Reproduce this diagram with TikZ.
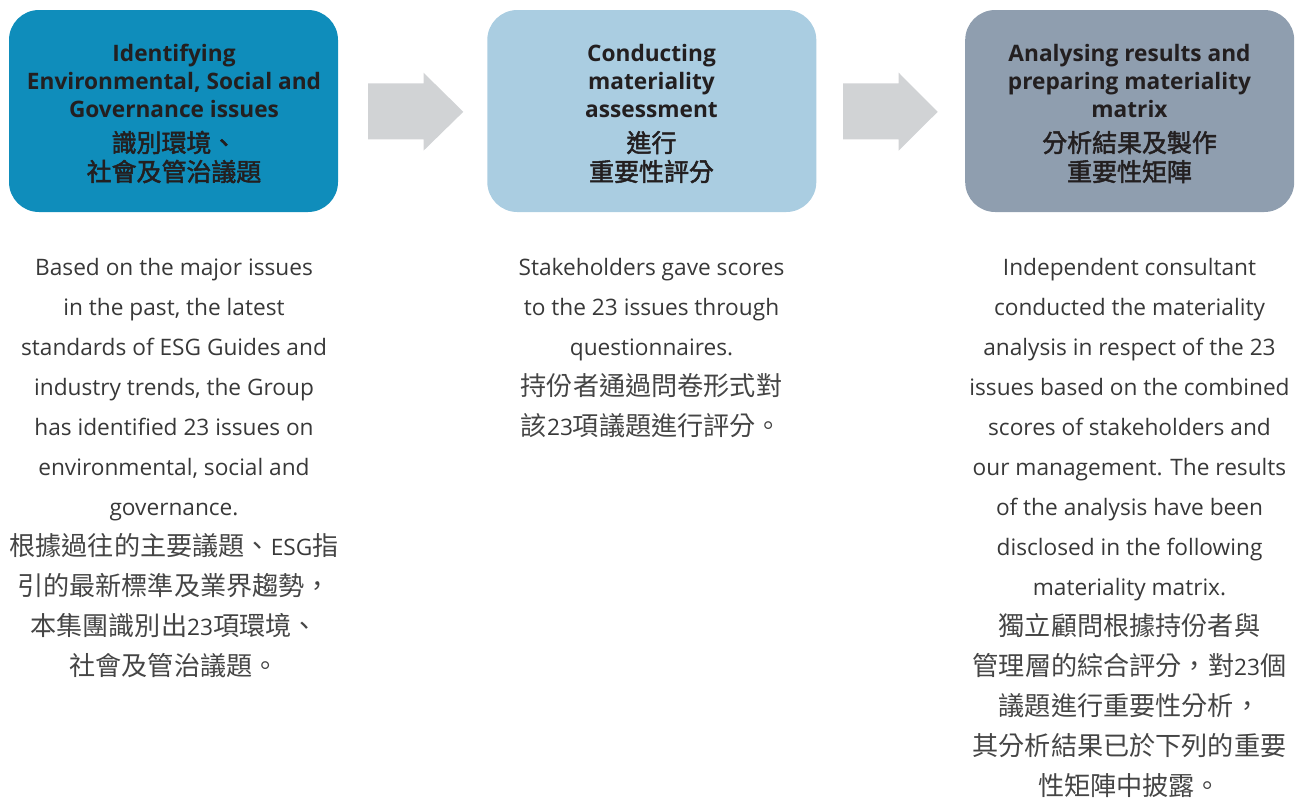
\documentclass[tikz,border=0pt]{standalone}
\usepackage{fontspec}
\setmainfont{Open Sans}
\newfontfamily\cjk{Noto Sans CJK TC}
\newfontfamily\cjkmed{Noto Sans CJK TC}[FakeBold=2]
\definecolor{boxA}{HTML}{0F8DBB}
\definecolor{boxB}{HTML}{AACDE1}
\definecolor{boxC}{HTML}{8F9EAF}
\definecolor{arrowgrey}{HTML}{D1D3D5}
\definecolor{headtxt}{HTML}{231F20}
\definecolor{bodytxt}{HTML}{383838}
\definecolor{bodycjktxt}{HTML}{454545}
\newcommand{\lat}[1]{{\fontsize{17}{20}\selectfont\normalfont\color{bodytxt}#1}}
\tikzset{
  stagebox/.style={rounded corners=22.5pt, minimum width=246.75pt, minimum height=151.5pt, inner sep=0pt, draw=none},
  head/.style={anchor=base, inner sep=0pt, text=headtxt, font=\fontsize{17}{20}\selectfont\bfseries},
  headcjk/.style={anchor=base, inner sep=0pt, text=headtxt, font=\fontsize{18.7}{22}\selectfont\cjkmed},
  body/.style={anchor=base, inner sep=0pt, text=bodytxt, font=\fontsize{17}{20}\selectfont},
  bodycjk/.style={anchor=base, inner sep=0pt, text=bodycjktxt, font=\fontsize{19.6}{22}\selectfont\cjk},
  flowarrow/.style={fill=arrowgrey, draw=none}
}
\begin{document}
\begin{tikzpicture}[x=0.75pt, y=-0.75pt]
\useasboundingbox (0,0) rectangle (1300,797);
% boxes
\node[stagebox, fill=boxA] (boxa) at (173.5,111) {};
\node[stagebox, fill=boxB] (boxb) at (651.8,111) {};
\node[stagebox, fill=boxC] (boxc) at (1129.7,111) {};
% arrows
\fill[flowarrow] (368,83.3) -- (423.5,83.3) -- (423.5,72.7) -- (463.3,111.8) -- (423.5,150.7) -- (423.5,139.3) -- (368,139.3) -- cycle;
\fill[flowarrow] (843,83.3) -- (898.7,83.3) -- (898.7,72.7) -- (937.7,111.8) -- (898.7,150.7) -- (898.7,139.3) -- (843,139.3) -- cycle;
% headings box 1
\node[head] (h1a) at (174,61) {Identifying};
\node[head] (h1b) at (174,89) {Environmental, Social and};
\node[head] (h1c) at (174,117) {Governance issues};
\node[headcjk] (h1d) at (174,152) {識別環境、};
\node[headcjk] (h1e) at (174,181) {社會及管治議題};
% headings box 2
\node[head] (h2a) at (651.5,61) {Conducting};
\node[head] (h2b) at (651.5,89) {materiality};
\node[head] (h2c) at (651.5,117) {assessment};
\node[headcjk] (h2d) at (651.5,152) {進行};
\node[headcjk] (h2e) at (651.5,181) {重要性評分};
% headings box 3
\node[head] (h3a) at (1129.5,61) {Analysing results and};
\node[head] (h3b) at (1129.5,89) {preparing materiality};
\node[head] (h3c) at (1129.5,117) {matrix};
\node[headcjk] (h3d) at (1129.5,152) {分析結果及製作};
\node[headcjk] (h3e) at (1129.5,181) {重要性矩陣};
% body column 1
\node[body] (b1a) at (174,275) {Based on the major issues};
\node[body] (b1b) at (174,315) {in the past, the latest};
\node[body] (b1c) at (174,355) {standards of ESG Guides and};
\node[body] (b1d) at (174,395) {industry trends, the Group};
\node[body] (b1e) at (174,435) {has identified 23 issues on};
\node[body] (b1f) at (174,475) {environmental, social and};
\node[body] (b1g) at (174,515) {governance.};
\node[bodycjk] (b1h) at (174,555) {根據過往的主要議題、\lat{ESG}指};
\node[bodycjk] (b1i) at (174,595) {引的最新標準及業界趨勢，};
\node[bodycjk] (b1j) at (174,635) {本集團識別出\lat{23}項環境、};
\node[bodycjk] (b1k) at (174,675) {社會及管治議題。};
% body column 2
\node[body] (b2a) at (651.5,275) {Stakeholders gave scores};
\node[body] (b2b) at (651.5,315) {to the 23 issues through};
\node[body] (b2c) at (651.5,355) {questionnaires.};
\node[bodycjk] (b2d) at (651.5,395) {持份者通過問卷形式對};
\node[bodycjk] (b2e) at (651.5,435) {該\lat{23}項議題進行評分。};
% body column 3
\node[body] (b3a) at (1129.5,275) {Independent consultant};
\node[body] (b3b) at (1129.5,315) {conducted the materiality};
\node[body] (b3c) at (1129.5,355) {analysis in respect of the 23};
\node[body] (b3d) at (1129.5,395) {issues based on the combined};
\node[body] (b3e) at (1129.5,435) {scores of stakeholders and};
\node[body] (b3f) at (1129.5,475) {our management. The results};
\node[body] (b3g) at (1129.5,515) {of the analysis have been};
\node[body] (b3h) at (1129.5,555) {disclosed in the following};
\node[body] (b3i) at (1129.5,595) {materiality matrix.};
\node[bodycjk] (b3j) at (1129.5,635) {獨立顧問根據持份者與};
\node[bodycjk] (b3k) at (1129.5,675) {管理層的綜合評分，對\lat{23}個};
\node[bodycjk] (b3l) at (1129.5,715) {議題進行重要性分析，};
\node[bodycjk] (b3m) at (1129.5,755) {其分析結果已於下列的重要};
\node[bodycjk] (b3n) at (1129.5,795) {性矩陣中披露。};
\end{tikzpicture}
\end{document}
